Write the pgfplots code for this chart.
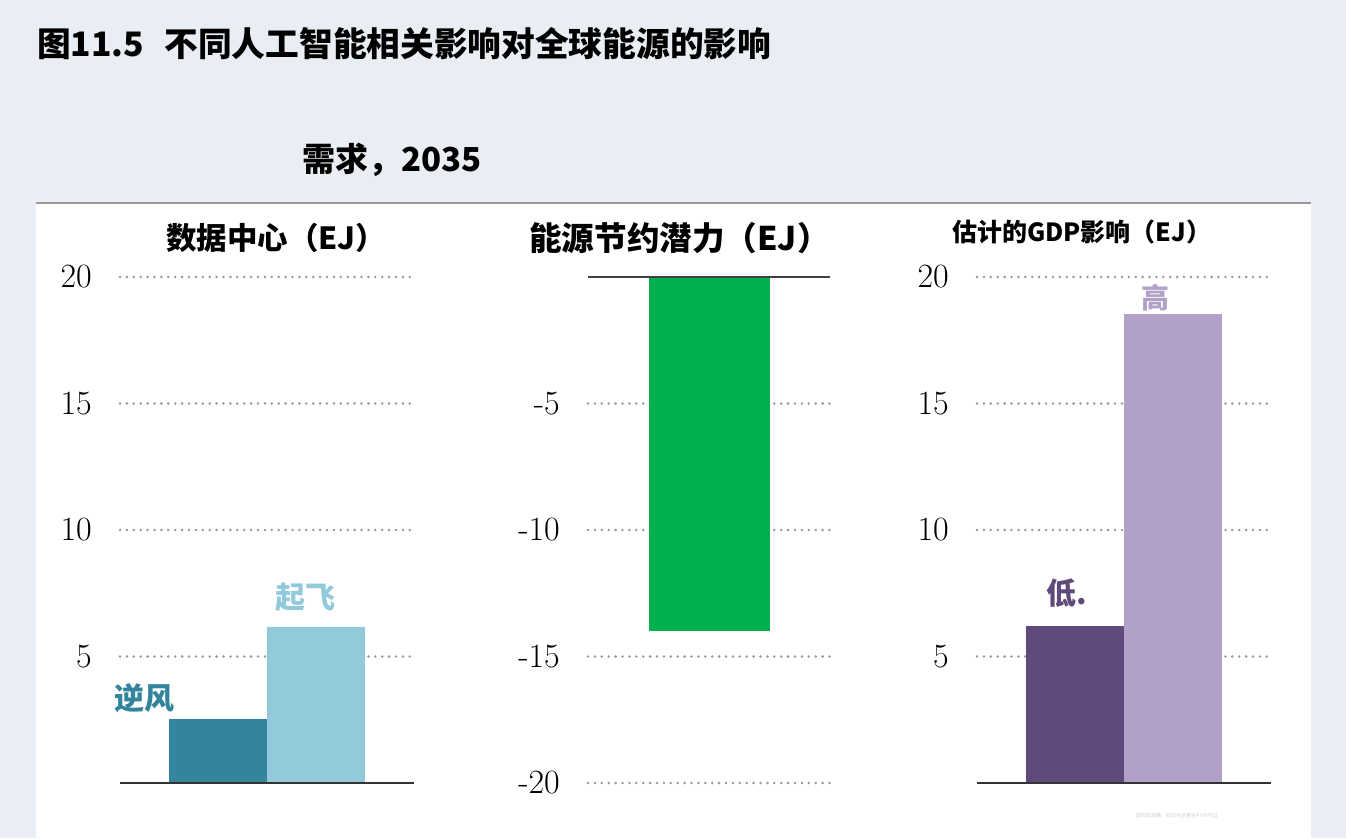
\documentclass[border=0pt]{standalone}
\usepackage{fontspec}
\usepackage{pgfplots}
\pgfplotsset{compat=1.18}
\newfontfamily\cjk{Noto Sans CJK SC}

\definecolor{bg}{HTML}{E8EEF3}
\definecolor{gridc}{HTML}{999999}
\definecolor{headwind}{HTML}{32859C}
\definecolor{takeoff}{HTML}{93CADB}
\definecolor{savings}{HTML}{00AF4E}
\definecolor{lowgdp}{HTML}{5F4A7B}
\definecolor{highgdp}{HTML}{B1A1C8}

\pgfplotsset{
  panel/.style={
    scale only axis,
    height=506pt,
    axis line style={draw=none},
    major tick length=0pt,
    xtick=\empty,
    ymajorgrids,
    grid style={gridc, line width=2.8pt, line cap=round, dash pattern=on 0pt off 6.9pt},
    yticklabel style={font=\fontsize{34}{34}\selectfont, anchor=east, inner sep=0pt, xshift=-28pt},
    clip=false,
  },
  posticks/.style={ymin=0, ymax=20, ytick={5,10,15,20}, yticklabels={5,10,15,20}},
}

\begin{document}
\begin{tikzpicture}
\path[use as bounding box] (0,0) rectangle (1346pt,838pt);
\fill[bg] (0,0) rectangle (1346pt,838pt);
\fill[white] (36pt,0) rectangle (1311pt,634pt);
\draw[gridc, line width=1.2pt] (36pt,635pt) -- (1311pt,635pt);

% headings
\node[anchor=west, inner sep=0pt] at (37pt,794pt)
  {\cjk\bfseries\fontsize{33.7}{36}\selectfont 图11.5\hspace{0.6em}不同人工智能相关影响对全球能源的影响};
\node[anchor=west, inner sep=0pt] at (302pt,678pt)
  {\cjk\bfseries\fontsize{33}{36}\selectfont 需求，2035};

\node[anchor=west, inner sep=0pt] at (166pt,600pt)
  {\cjk\bfseries\fontsize{30.5}{32}\selectfont 数据中心（EJ）};
\node[anchor=west, inner sep=0pt] at (529pt,600pt)
  {\cjk\bfseries\fontsize{32.6}{35}\selectfont 能源节约潜力（EJ）};
\node[anchor=west, inner sep=0pt] at (952pt,606pt)
  {\cjk\bfseries\fontsize{25}{28}\selectfont 估计的GDP影响（EJ）};

% data centres
\begin{axis}[panel, posticks, at={(120pt,55pt)}, anchor=south west,
  width=294pt, xmin=0, xmax=3]
  \addplot[ybar, bar width=1, fill=headwind, draw=none] coordinates {(1,2.53)};
  \addplot[ybar, bar width=1, fill=takeoff, draw=none] coordinates {(2,6.17)};
  \draw[black!80, line width=1.2pt] (axis cs:0,0) -- (axis cs:3,0);
  \node[headwind, font=\cjk\bfseries\fontsize{30}{30}\selectfont] at (axis cs:0.255,3.36) {逆风};
  \node[takeoff, font=\cjk\bfseries\fontsize{30}{30}\selectfont] at (axis cs:1.89,7.35) {起飞};
\end{axis}

% energy savings potential
\begin{axis}[panel, at={(588pt,55pt)}, anchor=south west,
  width=242pt, xmin=0, xmax=2, ymin=-20, ymax=0,
  ytick={-20,-15,-10,-5}, yticklabels={-20,-15,-10,-5}]
  \addplot[ybar, bar width=1, fill=savings, draw=none] coordinates {(1,-14.0)};
  \draw[black!75, line width=1.2pt] (axis cs:0,0) -- (axis cs:2,0);
\end{axis}

% estimated GDP effect
\begin{axis}[panel, posticks, at={(977pt,55pt)}, anchor=south west,
  width=294pt, xmin=0, xmax=3]
  \addplot[ybar, bar width=1, fill=lowgdp, draw=none] coordinates {(1,6.2)};
  \addplot[ybar, bar width=1, fill=highgdp, draw=none] coordinates {(2,18.55)};
  \draw[black!80, line width=1.2pt] (axis cs:0,0) -- (axis cs:3,0);
  \node[lowgdp, font=\cjk\bfseries\fontsize{30}{30}\selectfont] at (axis cs:0.92,7.5) {低.};
  \node[highgdp, font=\cjk\bfseries\fontsize{28}{28}\selectfont] at (axis cs:1.82,19.2) {高};
\end{axis}

\node[gridc!45, font=\cjk\fontsize{5}{5}\selectfont] at (1177pt,22pt) {国际能源署。知识共享署名4.0许可证};
\end{tikzpicture}
\end{document}
